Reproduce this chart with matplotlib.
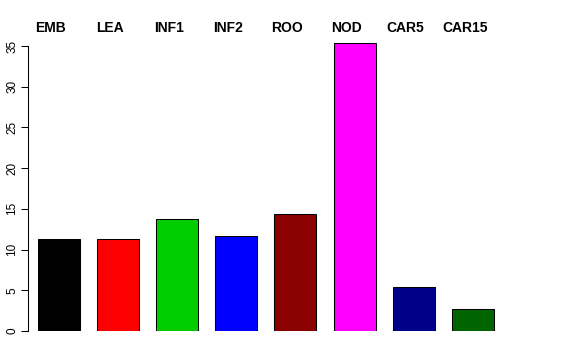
import matplotlib
matplotlib.use("Agg")
import matplotlib.pyplot as plt
import matplotlib.transforms as mtransforms
import numpy as np

tissues = ["EMB", "LEA", "INF1", "INF2", "ROO", "NOD", "CAR5", "CAR15"]
values = [11.3, 11.3, 13.75, 11.7, 14.35, 35.4, 5.4, 2.7]
colors = ["#000000", "#FF0000", "#00CD00", "#0000FF",
          "#8B0000", "#FF00FF", "#00008B", "#006400"]
yticks = [0, 5, 10, 15, 20, 25, 30, 35]

plt.rcParams["font.family"] = ["Liberation Sans", "DejaVu Sans"]

W, H = 576, 360
fig = plt.figure(figsize=(W / 100, H / 100), dpi=100)
# axes placed in pixel terms
left, right, bottom, top = 28, 504, 331, 40
ax = fig.add_axes([left / W, 1 - bottom / H, (right - left) / W, (bottom - top) / H])

step = 59.1
x = np.arange(len(tissues))
ax.bar(x, values, width=42 / step, color=colors, edgecolor="black", linewidth=0.75)

ax.set_xlim((left - 59) / step, (right - 59) / step)
ax.set_ylim(0, (bottom - top) / 8.143)

for s in ["top", "right", "bottom"]:
    ax.spines[s].set_visible(False)
ax.spines["left"].set_bounds(0, 35)
ax.spines["left"].set_linewidth(0.75)
ax.set_xticks([])
ax.set_yticks(yticks)
ax.tick_params(axis="y", length=5, width=0.75, pad=2, labelsize=8.5, labelrotation=90)
for lab in ax.get_yticklabels():
    lab.set_verticalalignment("center")

trans = mtransforms.blended_transform_factory(ax.transData, fig.transFigure)
for i, name in enumerate(tissues):
    ax.text(i - 8 / step, 1 - 28 / H, name, transform=trans, ha="center", va="center",
            fontsize=10, fontweight="bold", clip_on=False)

fig.savefig("out.png", dpi=100)
